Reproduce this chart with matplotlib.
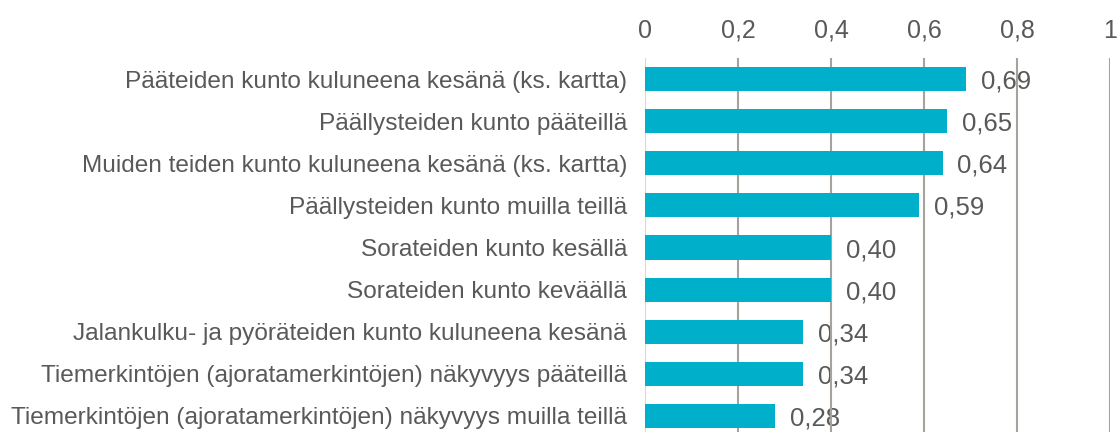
import matplotlib.pyplot as plt
import numpy as np

plt.rcParams['font.family'] = ['Liberation Sans', 'DejaVu Sans']

categories = [
    "Pääteiden kunto kuluneena kesänä (ks. kartta)",
    "Päällysteiden kunto pääteillä",
    "Muiden teiden kunto kuluneena kesänä (ks. kartta)",
    "Päällysteiden kunto muilla teillä",
    "Sorateiden kunto kesällä",
    "Sorateiden kunto keväällä",
    "Jalankulku- ja pyöräteiden kunto kuluneena kesänä",
    "Tiemerkintöjen (ajoratamerkintöjen) näkyvyys pääteillä",
    "Tiemerkintöjen (ajoratamerkintöjen) näkyvyys muilla teillä",
]
values = [0.69, 0.65, 0.64, 0.59, 0.40, 0.40, 0.34, 0.34, 0.28]
xticks = [0, 0.2, 0.4, 0.6, 0.8, 1.0]

text_color = "#595959"
bar_color = "#00B0CA"
grid_color = "#A8A29C"

fig = plt.figure(figsize=(11.19, 4.32), dpi=100)
W, H = 1119, 432
x0, x1 = 645, 1110
y_top, y_bot = 58, 437
ax = fig.add_axes([x0 / W, 1 - y_bot / H, (x1 - x0) / W, (y_bot - y_top) / H])

y = np.arange(len(categories))
ax.barh(y, values, height=0.57, color=bar_color, zorder=3)

ax.set_xlim(0, 1)
ax.set_ylim(len(categories) - 0.5, -0.5)

for xv in xticks[1:]:
    ax.axvline(xv, color=grid_color, lw=1.5, zorder=2)
ax.axvline(0, color="#D9D9D9", lw=1.5, zorder=0)

# value labels sit under the gridlines, like in the original
for yi, v in zip(y, values):
    ax.text(v + 0.032, yi + 0.06, f"{v:.2f}".replace(".", ","), va="center", ha="left",
            fontsize=18.5, color=text_color, zorder=1)

ax.set_xticks(xticks)
ax.set_xticklabels([("%g" % t).replace(".", ",") for t in xticks])
ax.xaxis.tick_top()
ax.tick_params(axis="x", length=0, pad=11, labelsize=18, labelcolor=text_color)

ax.set_yticks(y)
ax.set_yticklabels(categories)
ax.tick_params(axis="y", length=0, pad=13, labelsize=17.6, labelcolor=text_color)

for s in ax.spines.values():
    s.set_visible(False)

fig.savefig("out.png", dpi=100)
